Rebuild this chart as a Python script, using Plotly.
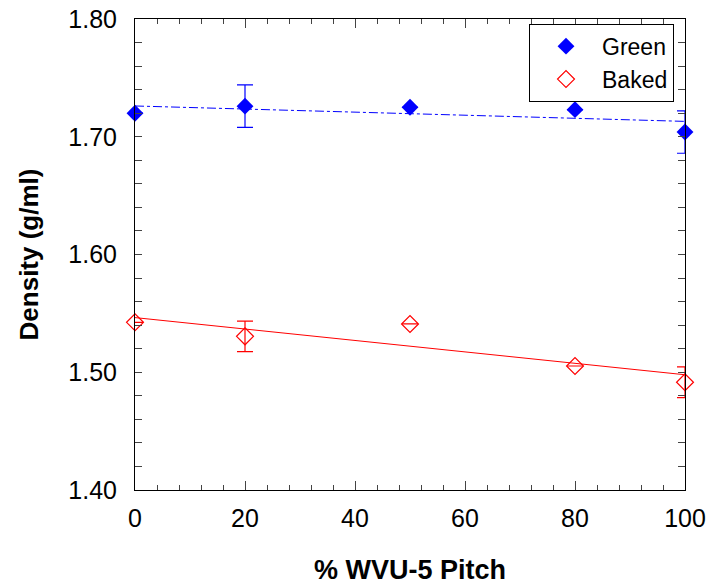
import numpy as np
import plotly.graph_objects as go

pitch = [0, 20, 50, 80, 100]
green = [1.720, 1.726, 1.725, 1.723, 1.704]
green_err = [0, 0.018, 0, 0, 0.018]
baked = [1.5424, 1.5305, 1.541, 1.5053, 1.4915]
baked_err = [0, 0.013, 0, 0, 0.013]

xfit = np.array([0, 100])
gcoef = np.polyfit(pitch, green, 1)
bcoef = np.polyfit(pitch, baked, 1)

FONT = "Liberation Sans, Arial"

fig = go.Figure()
fig.add_trace(go.Scatter(x=xfit, y=np.polyval(gcoef, xfit), mode="lines",
                         line=dict(color="blue", width=1, dash="dashdot"),
                         showlegend=False, hoverinfo="skip"))
fig.add_trace(go.Scatter(x=xfit, y=np.polyval(bcoef, xfit), mode="lines",
                         line=dict(color="red", width=1),
                         showlegend=False, hoverinfo="skip"))
fig.add_trace(go.Scatter(x=pitch, y=green, mode="markers", name="Green", cliponaxis=False,
                         marker=dict(symbol="diamond", size=13, color="blue"),
                         error_y=dict(type="data", array=green_err, color="blue",
                                      thickness=1.2, width=8, visible=True)))
fig.add_trace(go.Scatter(x=pitch, y=baked, mode="markers", name="Baked", cliponaxis=False,
                         marker=dict(symbol="diamond-open", size=13, color="red",
                                     line=dict(width=1.2)),
                         error_y=dict(type="data", array=baked_err, color="red",
                                      thickness=1.2, width=8, visible=True)))

axis_common = dict(showline=True, linecolor="black", linewidth=1, mirror="ticks",
                   ticks="inside", tickcolor="#444", showgrid=False, zeroline=False,
                   automargin=False,
                   tickfont=dict(family=FONT, size=25, color="black"))

fig.update_xaxes(range=[0, 100], dtick=20, tick0=0, ticklen=9, ticklabelstandoff=6,
                 minor=dict(dtick=4, ticklen=5, ticks="inside", tickcolor="#444"),
                 title=dict(text="<b>% WVU-5 Pitch</b>", standoff=30,
                            font=dict(family=FONT, size=27, color="black")),
                 **axis_common)
fig.update_yaxes(range=[1.40, 1.80], dtick=0.1, tick0=1.4, tickformat=".2f", ticklen=7,
                 ticklabelstandoff=12,
                 minor=dict(dtick=0.02, ticklen=7, ticks="inside", tickcolor="#444"),
                 title=dict(text="<b>Density (g/ml)</b>", standoff=22,
                            font=dict(family=FONT, size=26, color="black")),
                 **axis_common)

fig.update_layout(width=713, height=585, margin=dict(l=135, r=28, t=19, b=95),
                  plot_bgcolor="white", paper_bgcolor="white",
                  legend=dict(x=0.98, y=0.99, xanchor="right", yanchor="top",
                              bgcolor="white", bordercolor="black", borderwidth=1,
                              itemwidth=62, tracegroupgap=0,
                              font=dict(family=FONT, size=23, color="black")))

fig.write_html("out.html")
